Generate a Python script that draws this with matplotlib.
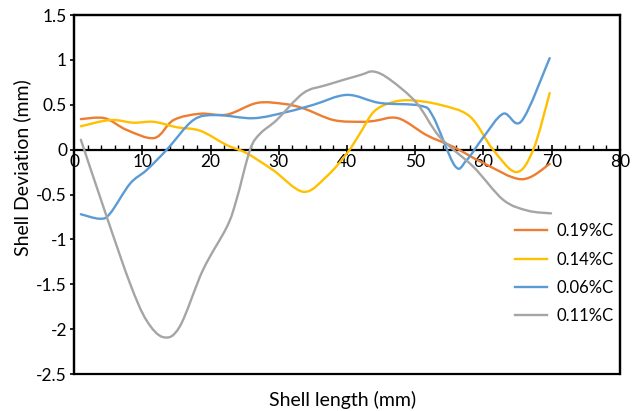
import numpy as np
import matplotlib
matplotlib.use('Agg')
import matplotlib.pyplot as plt
from matplotlib.path import Path
from matplotlib.patches import PathPatch, Rectangle
from matplotlib.lines import Line2D
from matplotlib.ticker import MultipleLocator

plt.rcParams['font.family'] = ['Lato', 'DejaVu Sans']

# shell deviation profiles (mm) along shell length (mm)
x_019 = [1, 4.5, 7.7, 11.8, 14.6, 18.5, 22.4, 26.8, 30.7, 33.6, 38, 42, 44, 47.5, 51.7, 55.6, 60, 65.6, 69.7]
y_019 = [0.34, 0.35, 0.22, 0.13, 0.33, 0.40, 0.39, 0.52, 0.51, 0.46, 0.33, 0.31, 0.32, 0.35, 0.16, 0.03, -0.15, -0.33, -0.16]

x_014 = [1, 5.3, 8.7, 11.7, 15, 18.5, 22.4, 25.3, 29.2, 33.6, 37, 40, 41.9, 43.9, 46.3, 49.2, 53.6, 58, 61.4, 64.8, 67.3, 69.7]
y_014 = [0.26, 0.33, 0.30, 0.31, 0.25, 0.21, 0.05, -0.04, -0.23, -0.47, -0.30, -0.04, 0.18, 0.42, 0.52, 0.55, 0.50, 0.37, 0.0, -0.25, 0.0, 0.63]

x_006 = [1, 3.8, 5.3, 8.2, 10.6, 13.6, 17.5, 20.9, 26.3, 31.2, 35.1, 40, 44.8, 50.7, 52.6, 55.8, 57.5, 60, 62.9, 65.6, 69.7]
y_006 = [-0.72, -0.77, -0.71, -0.38, -0.23, 0.0, 0.33, 0.385, 0.35, 0.42, 0.50, 0.61, 0.52, 0.49, 0.37, -0.18, -0.12, 0.14, 0.40, 0.32, 1.02]

x_011 = [1, 4.8, 8.2, 10.6, 13.1, 15.5, 18.9, 22.4, 23.8, 25.8, 27.3, 29.7, 33.6, 37, 41.9, 43.9, 46.3, 50.2, 53.6, 58.5, 62.9, 66.5, 69.9]
y_011 = [0.11, -0.75, -1.49, -1.90, -2.09, -1.97, -1.34, -0.86, -0.56, 0.0, 0.18, 0.33, 0.63, 0.72, 0.83, 0.87, 0.78, 0.52, 0.14, -0.19, -0.56, -0.68, -0.71]

labels = ['0.19%C', '0.14%C', '0.06%C', '0.11%C']
colors = ['#ED7D31', '#FFC000', '#5B9BD5', '#A5A5A5']


def smooth_path(xs, ys):
    # Bezier segments through the points (Catmull-Rom style control points)
    p = np.column_stack([xs, ys]).astype(float)
    verts = [p[0]]
    codes = [Path.MOVETO]
    n = len(p)
    for i in range(n - 1):
        p0 = p[i - 1] if i > 0 else p[i]
        p1, p2 = p[i], p[i + 1]
        p3 = p[i + 2] if i + 2 < n else p[i + 1]
        c1 = p1 + (p2 - p0) / 6.0
        c2 = p2 - (p3 - p1) / 6.0
        verts += [c1, c2, p2]
        codes += [Path.CURVE4] * 3
    return Path(verts, codes)


fig = plt.figure(figsize=(6.36, 4.11), dpi=100)
ax = fig.add_axes([0.1164, 0.0900, 0.8584, 0.8735])

series = [(x_019, y_019), (x_014, y_014), (x_006, y_006), (x_011, y_011)]
handles = []
for (xs, ys), lab, col in zip(series, labels, colors):
    ax.add_patch(PathPatch(smooth_path(xs, ys), facecolor='none', edgecolor=col,
                           linewidth=1.7, capstyle='round', zorder=3))
    handles.append(Line2D([], [], color=col, linewidth=1.7, label=lab))

ax.set_xlim(0, 80)
ax.set_ylim(-2.5, 1.5)

# plot frame plus the x axis running through y = 0
for s in ['top', 'right', 'left']:
    ax.spines[s].set_linewidth(1.6)
ax.spines['bottom'].set_position(('data', 0))
ax.spines['bottom'].set_linewidth(1.6)
ax.add_patch(Rectangle((0, 0), 1, 1, transform=ax.transAxes, fill=False,
                       edgecolor='black', linewidth=1.6, zorder=4, clip_on=False))

ax.xaxis.set_major_locator(MultipleLocator(10))
ax.xaxis.set_minor_locator(MultipleLocator(2))
ax.tick_params(axis='x', which='major', direction='inout', length=7, width=1.2,
               labelsize=12.5, pad=0)
ax.tick_params(axis='x', which='minor', direction='in', length=3.5, width=1.0)
ax.tick_params(axis='y', which='major', direction='out', length=3, width=1.2,
               labelsize=12.5, pad=2)
ax.set_yticks([1.5, 1, 0.5, 0, -0.5, -1, -1.5, -2, -2.5])
ax.set_yticklabels(['1.5', '1', '0.5', '0', '-0.5', '-1', '-1.5', '-2', '-2.5'])

fig.text(22 / 636, 1 - 168 / 411, 'Shell Deviation (mm)', rotation=90,
         ha='center', va='center', fontsize=14)
fig.text(343 / 636, 1 - 400 / 411, 'Shell length (mm)', ha='center', va='center',
         fontsize=14)

ax.legend(handles=handles, loc='upper left', bbox_to_anchor=(0.808, 0.42),
          frameon=False, fontsize=12, handlelength=1.9, handletextpad=0.6,
          labelspacing=0.74, borderaxespad=0, borderpad=0)

fig.savefig('out.png', dpi=100)
